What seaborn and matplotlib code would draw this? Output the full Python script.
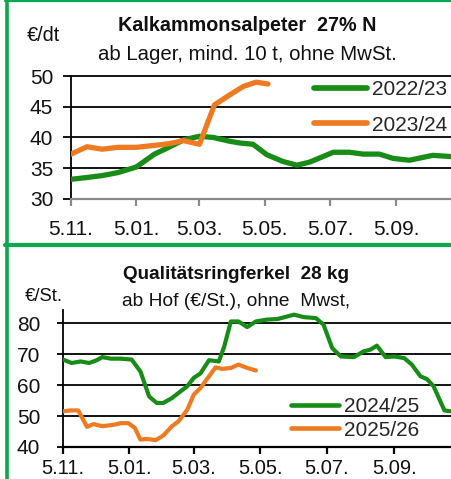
import numpy as np
import pandas as pd
import matplotlib
matplotlib.use("Agg")
import matplotlib.pyplot as plt
import seaborn as sns
from matplotlib.lines import Line2D
from matplotlib import font_manager as fm

# ---------------- data ----------------
tick_days = [0, 61, 120, 181, 242, 304]
tick_labels = ["5.11.", "5.01.", "5.03.", "5.05.", "5.07.", "5.09."]

kas_title = "Kalkammonsalpeter  27% N"
kas_subtitle = "ab Lager, mind. 10 t, ohne MwSt."
kas_unit = "€/dt"
kas_yticks = [30, 35, 40, 45, 50]
kas_2223_days = [0, 15, 29, 44, 61, 78, 89, 105, 120, 133, 148, 158, 170, 183, 198, 211,
                 223, 245, 260, 273, 288, 301, 316, 338, 355]
kas_2223_vals = [33.2, 33.5, 33.8, 34.3, 35.2, 37.3, 38.2, 39.6, 40.2, 40.0, 39.4, 39.1,
                 38.9, 37.2, 36.1, 35.5, 36.0, 37.6, 37.6, 37.3, 37.3, 36.6, 36.3, 37.1, 36.9]
kas_2324_days = [0, 15, 29, 44, 61, 77, 92, 105, 120, 134, 148, 161, 173, 184]
kas_2324_vals = [37.3, 38.5, 38.1, 38.4, 38.4, 38.7, 39.0, 39.5, 38.9, 45.3, 46.9, 48.3, 49.0, 48.7]

fer_title = "Qualitätsringferkel  28 kg"
fer_subtitle = "ab Hof (€/St.), ohne  Mwst,"
fer_unit = "€/St."
fer_yticks = [40, 50, 60, 70, 80]
fer_2425_days = [0, 8, 16, 24, 31, 36, 44, 53, 63, 71, 79, 86, 92, 100, 108, 114, 120, 126,
                 134, 143, 148, 154, 161, 169, 177, 187, 197, 212, 221, 232, 239, 247, 255,
                 267, 276, 282, 288, 296, 304, 313, 320, 328, 334, 340, 350, 356]
fer_2425_vals = [68.2, 67.1, 67.6, 67.1, 68.0, 69.0, 68.5, 68.5, 68.2, 64.4, 56.3, 54.2, 54.2,
                 55.8, 58.0, 59.6, 62.3, 63.7, 68.0, 67.6, 72.5, 80.5, 80.5, 78.7, 80.5, 81.1,
                 81.3, 82.7, 81.9, 81.6, 79.5, 71.9, 69.2, 69.0, 70.9, 71.4, 72.7, 69.0, 69.2,
                 68.7, 66.6, 62.8, 61.9, 59.6, 51.8, 51.5]
fer_2526_days = [0, 7, 14, 22, 28, 36, 47, 53, 60, 66, 71, 77, 85, 92, 100, 106, 114, 120,
                 126, 134, 140, 146, 154, 161, 169, 177]
fer_2526_vals = [51.5, 51.8, 51.8, 46.5, 47.4, 46.7, 47.2, 47.7, 47.7, 46.1, 42.4, 42.6, 42.2,
                 43.7, 46.7, 48.3, 52.0, 56.9, 59.0, 62.8, 65.7, 65.2, 65.5, 66.6, 65.5, 64.7]

GREEN = "#178c17"
ORANGE = "#ee7b22"
FRAME = "#0aa84f"

sns.set_theme(style="white")
plt.rcParams["font.family"] = ["Liberation Sans", "DejaVu Sans"]
_names = {f.name for f in fm.fontManager.ttflist}
TITLE_FAMILY = "Liberation Sans Narrow" if "Liberation Sans Narrow" in _names else "Liberation Sans"

W, H = 451, 479
fig = plt.figure(figsize=(W / 100, H / 100), dpi=100)
renderer = fig.canvas.get_renderer()


def fx(px):
    return px / W


def fy(py):
    return 1 - py / H


def fit_text(xc, yb, s, target_w, size, **kw):
    t = fig.text(fx(xc), fy(yb), s, ha="center", va="baseline", fontsize=size,
                 color="#111111", **kw)
    w = t.get_window_extent(renderer).width
    t.set_fontsize(size * target_w / w)
    return t


def panel(rect, xmax, ylim, yticks, series, colors, lw, spine_col, ytick_len, ypad, xpad,
          xlabelsize, leg_xy, leg_handlelen, leg_spacing):
    ax = fig.add_axes(rect)
    frames = []
    for name, d, v in series:
        frames.append(pd.DataFrame({"day": d, "val": v, "season": name}))
    df = pd.concat(frames, ignore_index=True)
    sns.lineplot(data=df, x="day", y="val", hue="season",
                 palette=dict(zip([s[0] for s in series], colors)),
                 estimator=None, sort=False, linewidth=lw, ax=ax, legend=False,
                 solid_capstyle="round", solid_joinstyle="round", zorder=3)
    ax.set_xlim(0, xmax)
    ax.set_ylim(*ylim)
    ax.set_yticks(yticks)
    ax.set_yticklabels([str(t) for t in yticks])
    ax.set_xticks(tick_days)
    ax.set_xticklabels(tick_labels)
    ax.set_xlabel("")
    ax.set_ylabel("")
    for t in yticks[1:]:
        ax.axhline(t, color="black", lw=1.3, zorder=1, clip_on=False)
    for s in ["top", "right"]:
        ax.spines[s].set_visible(False)
    ax.spines["left"].set_color("black")
    ax.spines["left"].set_linewidth(1.3)
    ax.spines["bottom"].set_color(spine_col)
    ax.spines["bottom"].set_linewidth(1.6)
    ax.tick_params(axis="y", direction="out", length=ytick_len, width=1.3, color="black",
                   pad=ypad, labelsize=15, labelcolor="#111111", left=True)
    ax.tick_params(axis="x", direction="out", length=5, width=1.6, color=spine_col,
                   pad=xpad, labelsize=xlabelsize, labelcolor="#111111", bottom=True)
    ax.set_facecolor("none")
    handles = [Line2D([], [], color=c, lw=lw + 0.3, solid_capstyle="round") for c in colors]
    ax.legend(handles, [s[0] for s in series], loc="upper left",
              bbox_to_anchor=leg_xy, bbox_transform=fig.transFigure, frameon=False,
              borderpad=0, borderaxespad=0, handlelength=leg_handlelen, handletextpad=0.25,
              labelspacing=leg_spacing, fontsize=15)
    return ax


panel([fx(71), fy(199), fx(380), 123 / H], 355, (30, 50), kas_yticks,
      [("2022/23", kas_2223_days, kas_2223_vals), ("2023/24", kas_2324_days, kas_2324_vals)],
      [GREEN, ORANGE], 3.8, "#8a8a8a", 5.8, 7, 10, 15,
      (fx(314), fy(80)), 2.55, 0.8)

panel([fx(63), fy(447), fx(388), 137 / H], 356, (40, 84.2), fer_yticks,
      [("2024/25", fer_2425_days, fer_2425_vals), ("2025/26", fer_2526_days, fer_2526_vals)],
      [GREEN, ORANGE], 3.0, "black", 4.5, 12, 3.5, 14.5,
      (fx(291), fy(397)), 2.3, 0.22)

# titles
fit_text(247.5, 31, kas_title, 259, 17, fontweight="bold", family=TITLE_FAMILY)
fit_text(247.5, 60, kas_subtitle, 299, 14.6)
fig.text(fx(27), fy(41), kas_unit, ha="left", va="baseline", fontsize=14.3, color="#111111")

fit_text(235.5, 279, fer_title, 225, 16.5, fontweight="bold", family=TITLE_FAMILY)
fit_text(236.5, 306, fer_subtitle, 227, 13.7)
fig.text(fx(25), fy(301), fer_unit, ha="left", va="baseline", fontsize=13.3, color="#111111")

# green frame
fig.add_artist(Line2D([fx(6.5), fx(6.5)], [0, 1], color=FRAME, lw=2.6,
                      transform=fig.transFigure))
fig.add_artist(Line2D([fx(5), 1], [fy(0.8), fy(0.8)], color=FRAME, lw=1.6,
                      transform=fig.transFigure))
fig.add_artist(Line2D([fx(5), 1], [fy(244.5), fy(244.5)], color=FRAME, lw=3,
                      transform=fig.transFigure))

fig.savefig("out.png", dpi=100)
